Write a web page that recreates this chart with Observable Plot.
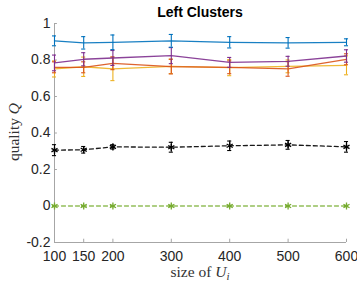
<!DOCTYPE html>
<html>
<head>
<meta charset="utf-8">
<script src="https://cdn.jsdelivr.net/npm/d3@7"></script>
<script src="https://cdn.jsdelivr.net/npm/@observablehq/plot@0.6"></script>
<style>
  html, body { margin: 0; padding: 0; background: #fff; }
  #chart { width: 357px; height: 286px; }
</style>
</head>
<body>
<div id="chart"></div>
<script>
const sizes = [100, 150, 200, 300, 400, 500, 600];
const xTicks = [100, 150, 200, 300, 400, 500, 600];
const yTicks = [-0.2, 0, 0.2, 0.4, 0.6, 0.8, 1];

const blue = [0.905, 0.894, 0.897, 0.905, 0.897, 0.894, 0.897];
const blueErr = [0.027, 0.034, 0.040, 0.035, 0.031, 0.029, 0.019];
const red = [0.760, 0.760, 0.782, 0.764, 0.760, 0.751, 0.804];
const redErr = [0.030, 0.030, 0.035, 0.040, 0.035, 0.040, 0.030];
const yellow = [0.751, 0.763, 0.751, 0.765, 0.758, 0.765, 0.771];
const yellowErr = [0.044, 0.053, 0.064, 0.040, 0.044, 0.035, 0.052];
const purple = [0.784, 0.804, 0.811, 0.824, 0.787, 0.793, 0.822];
const purpleErr = [0.043, 0.036, 0.041, 0.044, 0.027, 0.027, 0.034];
const black = [0.306, 0.308, 0.324, 0.322, 0.330, 0.335, 0.324];
const blackErr = [0.030, 0.018, 0.012, 0.027, 0.026, 0.024, 0.029];
const green = [0, 0, 0, 0, 0, 0, 0];
const greenErr = [0.003, 0.003, 0.003, 0.003, 0.003, 0.003, 0.003];

const seriesDefs = [
  {name: "yellow", vals: yellow, err: yellowErr, color: "#EDB120", dash: null, marker: false},
  {name: "red", vals: red, err: redErr, color: "#D95319", dash: null, marker: false},
  {name: "purple", vals: purple, err: purpleErr, color: "#7E2F8E", dash: null, marker: false},
  {name: "blue", vals: blue, err: blueErr, color: "#0072BD", dash: null, marker: false},
  {name: "black", vals: black, err: blackErr, color: "#000000", dash: "4,3", marker: true},
  {name: "green", vals: green, err: greenErr, color: "#77AC30", dash: "4,3", marker: true}
];

const marks = [];
// axis lines
marks.push(Plot.ruleX([100], {stroke: "#a6a6a6", strokeWidth: 1}));
marks.push(Plot.ruleY([-0.2], {stroke: "#a6a6a6", strokeWidth: 1}));
// inward ticks
marks.push(Plot.ruleX(xTicks, {x: d => d, y1: -0.2, y2: -0.2 + 0.018, stroke: "#a6a6a6"}));
marks.push(Plot.ruleY(yTicks, {y: d => d, x1: 100, x2: 105, stroke: "#a6a6a6"}));

for (const s of seriesDefs) {
  const data = sizes.map((x, i) => ({x, y: s.vals[i], e: s.err[i]}));
  marks.push(Plot.line(data, {x: "x", y: "y", stroke: s.color, strokeWidth: 1.3, strokeDasharray: s.dash, strokeOpacity: s.name === "green" ? 0.8 : 0.9}));
  marks.push(Plot.ruleX(data, {x: "x", y1: d => d.y - d.e, y2: d => d.y + d.e, stroke: s.color, strokeWidth: 1.1}));
  marks.push(Plot.ruleY(data, {y: d => d.y - d.e, x1: d => d.x - 3.5, x2: d => d.x + 3.5, stroke: s.color, strokeWidth: 1.1}));
  marks.push(Plot.ruleY(data, {y: d => d.y + d.e, x1: d => d.x - 3.5, x2: d => d.x + 3.5, stroke: s.color, strokeWidth: 1.1}));
  if (s.marker) {
    marks.push(Plot.dot(data, {x: "x", y: "y", symbol: "asterisk", r: 3.3, stroke: s.color, strokeWidth: 1.3}));
  }
}

marks.push(Plot.axisX(xTicks, {tickSize: 0, tickPadding: 9, tickFormat: d => String(d), fontSize: 14, fill: "#262626"}));
marks.push(Plot.axisY(yTicks, {tickSize: 0, tickPadding: 4, tickFormat: d => String(d), fontSize: 14, fill: "#262626"}));

const chart = Plot.plot({
  width: 357,
  height: 286,
  marginLeft: 54,
  marginRight: 11,
  marginTop: 23,
  marginBottom: 44,
  style: {fontFamily: "'Liberation Sans', Arial, sans-serif", background: "#fff"},
  x: {domain: [100, 600], label: null},
  y: {domain: [-0.2, 1], label: null},
  marks
});

const svg = d3.select(chart);
// title
svg.append("text")
  .attr("x", 200).attr("y", 17)
  .attr("text-anchor", "middle")
  .attr("font-family", "'Liberation Sans', Arial, sans-serif")
  .attr("font-weight", "bold")
  .attr("font-size", 14)
  .attr("fill", "#000")
  .text("Left Clusters");
// y label
const yl = svg.append("text")
  .attr("transform", "translate(19,132) rotate(-90)")
  .attr("text-anchor", "middle")
  .attr("font-family", "'Liberation Serif', 'Times New Roman', serif")
  .attr("font-size", 15.5)
  .attr("fill", "#333");
yl.append("tspan").text("quality ");
yl.append("tspan").attr("font-style", "italic").text("Q");
// x label
const xl = svg.append("text")
  .attr("x", 200).attr("y", 277)
  .attr("text-anchor", "middle")
  .attr("font-family", "'Liberation Serif', 'Times New Roman', serif")
  .attr("font-size", 15.5)
  .attr("fill", "#333");
xl.append("tspan").text("size of ");
xl.append("tspan").attr("font-style", "italic").text("U");
xl.append("tspan").attr("font-style", "italic").attr("font-size", 11).attr("dy", 3).text("i");

document.getElementById("chart").appendChild(chart);
</script>
</body>
</html>
